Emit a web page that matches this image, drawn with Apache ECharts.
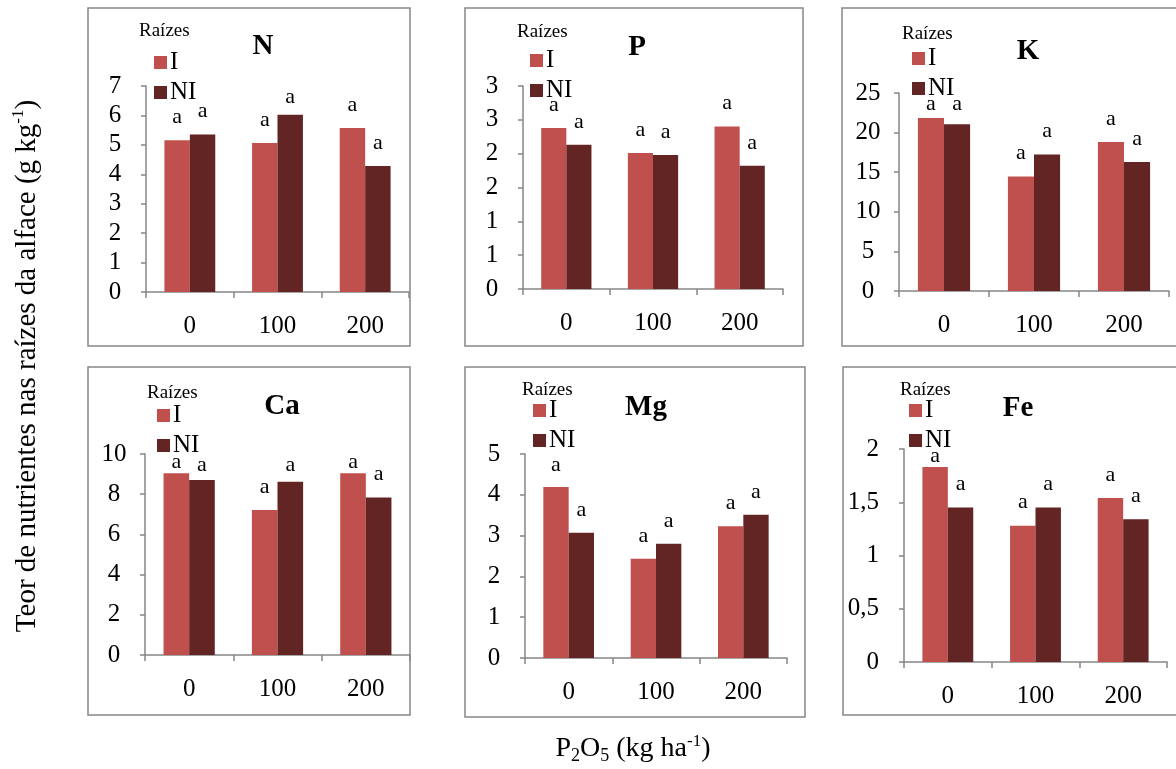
<!DOCTYPE html>
<html>
<head>
<meta charset="utf-8">
<script src="https://cdn.jsdelivr.net/npm/echarts@6/dist/echarts.min.js"></script>
<style>
  html, body { margin: 0; padding: 0; background: #fff; }
  #chart { width: 1176px; height: 769px; }
</style>
</head>
<body>
<div id="chart"></div>
<script>
  // doses de P2O5 (kg/ha)
  const doses = ['0', '100', '200']
  const seriesNames = ['I', 'NI']

  // teores (g/kg), I = inoculada, NI = nao inoculada
  const nI = [5.16, 5.06, 5.57]
  const nNI = [5.35, 6.02, 4.28]
  const pI = [2.38, 2.01, 2.40]
  const pNI = [2.13, 1.98, 1.82]
  const kI = [21.85, 14.45, 18.82]
  const kNI = [21.05, 17.23, 16.30]
  const caI = [9.04, 7.21, 9.04]
  const caNI = [8.71, 8.62, 7.84]
  const mgI = [4.19, 2.43, 3.23]
  const mgNI = [3.07, 2.80, 3.51]
  const feI = [1.83, 1.28, 1.54]
  const feNI = [1.45, 1.45, 1.34]

  // letras do teste de medias
  const lettersI = ['a', 'a', 'a']
  const lettersNI = ['a', 'a', 'a']

  const FONT = '"Liberation Serif", "Times New Roman", serif'
  const colors = ['#c0504d', '#632523']
  const gray = '#868686'

  const panels = [
    { name: 'N', I: nI, NI: nNI, max: 7, step: 1, fmt: v => String(v),
      grid: [146, 86, 263, 206], legend: [154, 50], title: [263, 47], raiz: [139, 31], box: [88, 8, 322, 338] },
    { name: 'P', I: pI, NI: pNI, max: 3, step: 0.5, fmt: v => String(Math.round(v)),
      grid: [523, 86, 260, 203], legend: [530, 48], title: [637, 48], raiz: [517, 32], box: [465, 8, 338, 338] },
    { name: 'K', I: kI, NI: kNI, max: 25, step: 5, fmt: v => String(v),
      grid: [899, 93, 270, 198], legend: [912, 46], title: [1028, 52], raiz: [902, 34], box: [842, 8, 340, 338] },
    { name: 'Ca', I: caI, NI: caNI, max: 10, step: 2, fmt: v => String(v),
      grid: [145, 454, 265, 201], legend: [157, 403], title: [282, 407], raiz: [147, 393], box: [88, 367, 322, 348] },
    { name: 'Mg', I: mgI, NI: mgNI, max: 5, step: 1, fmt: v => String(v),
      grid: [525, 454, 262, 204], legend: [533, 398], title: [646, 408], raiz: [522, 390], box: [465, 367, 340, 350] },
    { name: 'Fe', I: feI, NI: feNI, max: 2, step: 0.5, fmt: v => String(v).replace('.', ','), right: true,
      grid: [904, 449, 263, 213], legend: [909, 398], title: [1018, 409], raiz: [900, 390], box: [843, 367, 340, 348] }
  ]

  // distancia do rotulo: fica dentro da area do grafico quando a barra e alta
  function labelDist(v, max, h) {
    let gap = (max - v) / max * h
    return Math.max(Math.min(12, gap - 22), 0)
  }

  let option = {
    animation: false,
    backgroundColor: '#fff',
    textStyle: { fontFamily: FONT },
    grid: [],
    xAxis: [],
    yAxis: [],
    legend: [],
    series: [],
    graphic: []
  }

  panels.forEach((p, i) => {
    let g = p.grid
    option.grid.push({ left: g[0], top: g[1], width: g[2], height: g[3], containLabel: false })
    option.xAxis.push({
      type: 'category',
      gridIndex: i,
      data: doses,
      axisLine: { lineStyle: { color: gray, width: 1.5 } },
      axisTick: { show: true, length: 6, interval: 0, lineStyle: { color: gray, width: 1.5 } },
      axisLabel: { color: '#000', fontFamily: FONT, fontSize: 25, margin: 22, interval: 0 }
    })
    option.yAxis.push({
      type: 'value',
      gridIndex: i,
      min: 0,
      max: p.max,
      interval: p.step,
      splitLine: { show: false },
      axisLine: { show: true, lineStyle: { color: gray, width: 1.5 } },
      axisTick: { show: true, length: 5, lineStyle: { color: gray, width: 1.5 } },
      axisLabel: {
        color: '#000', fontFamily: FONT, fontSize: 25,
        align: p.right ? 'right' : 'center',
        margin: p.right ? 25 : 31,
        padding: [4, 0, 0, 0],
        formatter: p.fmt
      }
    })
    option.legend.push({
      orient: 'vertical',
      left: p.legend[0],
      top: p.legend[1],
      padding: 0,
      itemGap: 5,
      itemWidth: 13,
      itemHeight: 13,
      icon: 'rect',
      data: seriesNames,
      textStyle: { fontFamily: FONT, fontSize: 25, lineHeight: 24, color: '#000', padding: [0, 0, 0, -2] }
    })
    let vals = [p.I, p.NI]
    let letters = [lettersI, lettersNI]
    seriesNames.forEach((s, k) => {
      option.series.push({
        name: s,
        type: 'bar',
        xAxisIndex: i,
        yAxisIndex: i,
        barGap: 0,
        barCategoryGap: '42%',
        itemStyle: { color: colors[k] },
        data: vals[k].map((v, j) => ({
          value: v,
          label: { distance: labelDist(v, p.max, g[3]), formatter: letters[k][j] }
        })),
        label: {
          show: true,
          position: 'top',
          color: '#000',
          fontFamily: FONT,
          fontSize: 22
        }
      })
    })
    option.graphic.push({
      type: 'rect',
      shape: { x: p.box[0], y: p.box[1], width: p.box[2], height: p.box[3] },
      style: { fill: null, stroke: gray, lineWidth: 1.5 },
      z: -1
    })
    option.graphic.push({
      type: 'text',
      x: p.title[0],
      y: p.title[1],
      style: { text: p.name, font: 'bold 29px ' + FONT, fill: '#000', align: 'center', verticalAlign: 'middle' }
    })
    option.graphic.push({
      type: 'text',
      x: p.raiz[0],
      y: p.raiz[1],
      style: { text: 'Raízes', font: '19px ' + FONT, fill: '#000', align: 'left', verticalAlign: 'middle' }
    })
  })

  // titulos gerais dos eixos
  option.graphic.push({
    type: 'text',
    x: 26,
    y: 366,
    rotation: Math.PI / 2,
    style: {
      text: '{n|Teor de nutrientes nas raízes da alface (g kg}{s|-1}{n|)}',
      align: 'center',
      verticalAlign: 'middle',
      fill: '#000',
      rich: {
        n: { fontFamily: FONT, fontSize: 29, lineHeight: 32, verticalAlign: 'bottom' },
        s: { fontFamily: FONT, fontSize: 17, lineHeight: 32, verticalAlign: 'top' }
      }
    }
  })
  option.graphic.push({
    type: 'text',
    x: 633,
    y: 749,
    style: {
      text: '{n|P}{b|2}{n|O}{b|5}{n| (kg ha}{s|-1}{n|)}',
      align: 'center',
      verticalAlign: 'middle',
      fill: '#000',
      rich: {
        n: { fontFamily: FONT, fontSize: 28, lineHeight: 32, verticalAlign: 'middle' },
        b: { fontFamily: FONT, fontSize: 18, lineHeight: 32, verticalAlign: 'bottom' },
        s: { fontFamily: FONT, fontSize: 17, lineHeight: 32, verticalAlign: 'top' }
      }
    }
  })

  echarts.init(document.getElementById('chart')).setOption(option)
</script>
</body>
</html>
